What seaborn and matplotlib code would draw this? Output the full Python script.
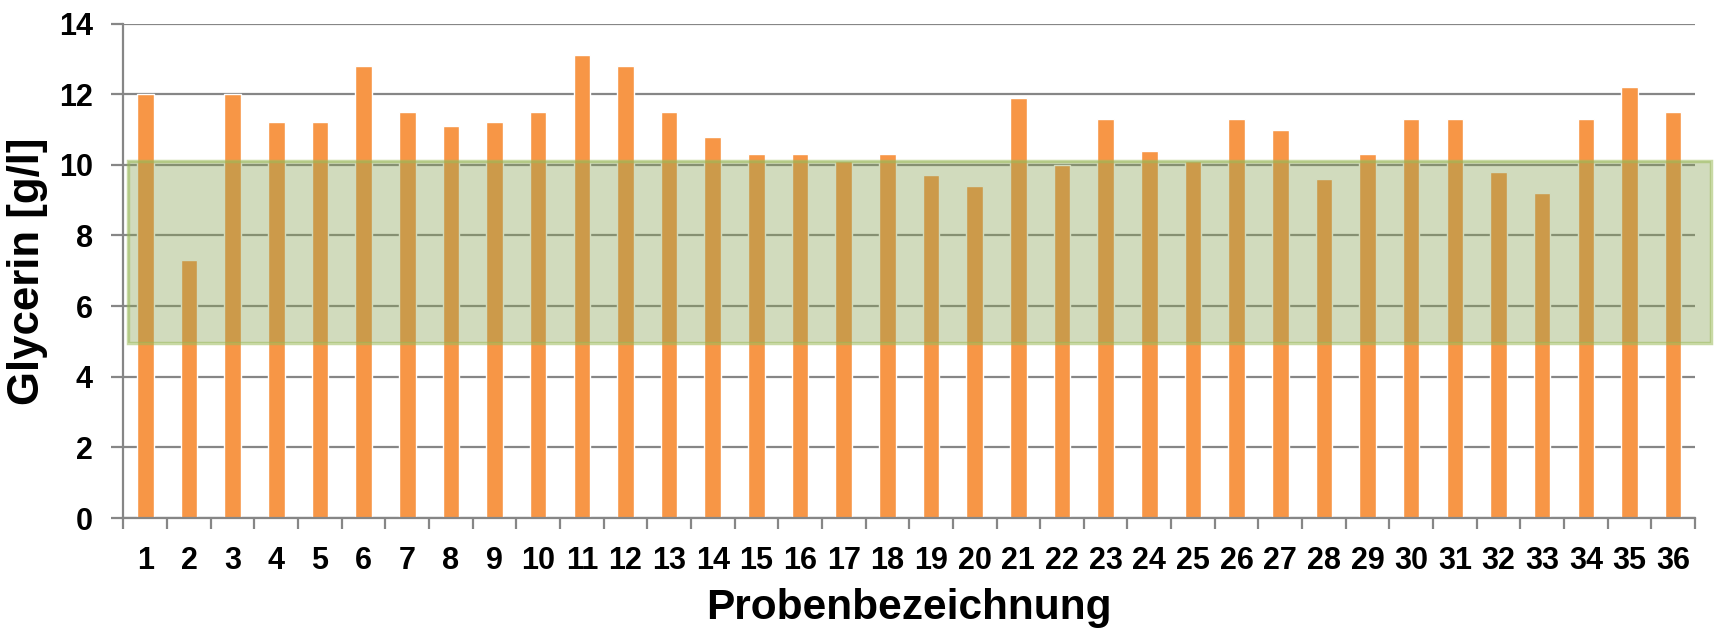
import pandas as pd
import matplotlib
matplotlib.use("Agg")
import matplotlib.pyplot as plt
import matplotlib.transforms as mtransforms
from matplotlib.patches import Rectangle
from matplotlib.ticker import MultipleLocator, FixedLocator
import seaborn as sns

# Daten (Glycerin je Probe)
proben = [str(i) for i in range(1, 37)]
glycerin = [12.0, 7.3, 12.0, 11.2, 11.2, 12.8, 11.5, 11.1, 11.2, 11.5,
            13.1, 12.8, 11.5, 10.8, 10.3, 10.3, 10.1, 10.3, 9.7, 9.4,
            11.9, 10.0, 11.3, 10.4, 10.1, 11.3, 11.0, 9.6, 10.3, 11.3,
            11.3, 9.8, 9.2, 11.3, 12.2, 11.5]

# Sollbereich (grünes Band)
bereich_unten = 4.95
bereich_oben = 10.1

df = pd.DataFrame({"Probe": proben, "Glycerin": glycerin})

sns.set_style("white")
plt.rcParams["font.family"] = ["Liberation Sans", "DejaVu Sans"]
plt.rcParams["font.weight"] = "bold"
plt.rcParams["text.color"] = "black"
plt.rcParams["xtick.color"] = "black"
plt.rcParams["ytick.color"] = "black"
plt.rcParams["axes.labelcolor"] = "black"

grau = "#868686"

fig = plt.figure(figsize=(17.15, 6.31), dpi=100)
ax = fig.add_axes([0.072, 0.179, 0.9163, 0.7837])

sns.barplot(data=df, x="Probe", y="Glycerin", color="#F79646",
            saturation=1, width=0.38, ax=ax, zorder=2)

ax.set_xlim(-0.5, len(proben) - 0.5)
ax.set_ylim(0, 14)
ax.yaxis.set_major_locator(MultipleLocator(2))
ax.set_axisbelow(True)
ax.grid(axis="y", color=grau, linewidth=1.6)
ax.grid(axis="x", visible=False)

# Kategorie-Grenzen als Ticks
ax.xaxis.set_minor_locator(FixedLocator([i - 0.5 for i in range(len(proben) + 1)]))
ax.tick_params(axis="x", which="major", length=0, labelsize=22, pad=20)
ax.tick_params(axis="x", which="minor", length=8, width=1.6, color=grau, bottom=True)
ax.tick_params(axis="y", which="major", length=9, width=1.6, color=grau,
               labelcolor="black", labelsize=22, pad=13, left=True)

for s in ["top", "right"]:
    ax.spines[s].set_visible(False)
for s in ["left", "bottom"]:
    ax.spines[s].set_color(grau)
    ax.spines[s].set_linewidth(1.6)

ax.set_xlabel("Probenbezeichnung", fontsize=30.5, fontweight="bold", labelpad=9)
ax.set_ylabel("Glycerin [g/l]", fontsize=31.5, fontweight="bold", labelpad=8)

# grünes Band, reicht etwas über die Achse hinaus
trans = mtransforms.blended_transform_factory(ax.transAxes, ax.transData)
band = Rectangle((0.003, bereich_unten), 1.007, bereich_oben - bereich_unten,
                 transform=trans, facecolor="#87A252", alpha=0.38,
                 edgecolor="none", zorder=5, clip_on=False)
ax.add_patch(band)
rand = Rectangle((0.003, bereich_unten), 1.007, bereich_oben - bereich_unten,
                 transform=trans, facecolor="none", edgecolor="#9BBB59",
                 alpha=0.55, linewidth=2.5, zorder=6, clip_on=False)
ax.add_patch(rand)

fig.savefig("out.png", dpi=100)
